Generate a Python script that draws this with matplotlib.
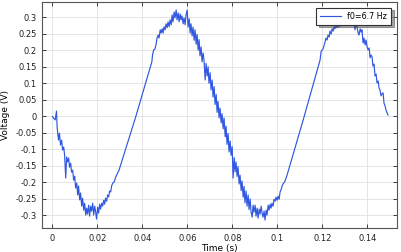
import numpy as np
import matplotlib
matplotlib.use("Agg")
import matplotlib.pyplot as plt
from matplotlib.ticker import FuncFormatter

plt.rcParams['axes.unicode_minus'] = False

t_fall1 = [0.0000, 0.0005, 0.0012, 0.0018, 0.0021, 0.0027, 0.0031, 0.0036, 0.0041, 0.0045,
           0.0050, 0.0054, 0.0059, 0.0063, 0.0068, 0.0072, 0.0076, 0.0081, 0.0085, 0.0090,
           0.0094, 0.0099, 0.0103, 0.0108, 0.0112, 0.0116, 0.0121, 0.0125, 0.0130, 0.0134,
           0.0139, 0.0143, 0.0148, 0.0152, 0.0156, 0.0161, 0.0165, 0.0170, 0.0174, 0.0179,
           0.0183, 0.0188, 0.0192, 0.0196, 0.0201, 0.0205, 0.0210, 0.0214, 0.0219, 0.0223,
           0.0228, 0.0232, 0.0236, 0.0241, 0.0245, 0.0250, 0.0254, 0.0259, 0.0263, 0.0268,
           0.0274]
v_fall1 = [-0.001, -0.005, -0.011, 0.016, -0.035, -0.072, -0.051, -0.087, -0.072, -0.102,
           -0.093, -0.117, -0.187, -0.123, -0.138, -0.126, -0.154, -0.142, -0.169, -0.163,
           -0.193, -0.181, -0.217, -0.202, -0.238, -0.211, -0.253, -0.232, -0.272, -0.248,
           -0.284, -0.263, -0.299, -0.278, -0.296, -0.269, -0.302, -0.272, -0.287, -0.263,
           -0.299, -0.272, -0.290, -0.311, -0.275, -0.293, -0.266, -0.281, -0.263, -0.272,
           -0.254, -0.266, -0.248, -0.257, -0.238, -0.244, -0.226, -0.229, -0.211, -0.202,
           -0.199]

t_rise1 = [0.0283, 0.0296, 0.0370, 0.0442]
v_rise1 = [-0.181, -0.163, -0.002, 0.165]

t_top1 = [0.0445, 0.0450, 0.0456, 0.0461, 0.0465, 0.0470, 0.0474, 0.0479, 0.0483, 0.0488,
          0.0492, 0.0496, 0.0501, 0.0505, 0.0510, 0.0514, 0.0519, 0.0523, 0.0528, 0.0532,
          0.0536, 0.0541, 0.0545, 0.0550, 0.0554, 0.0559, 0.0563, 0.0568, 0.0572, 0.0576,
          0.0581, 0.0585, 0.0590, 0.0594, 0.0599, 0.0603, 0.0608, 0.0612, 0.0616, 0.0621,
          0.0625, 0.0630, 0.0634, 0.0639, 0.0643, 0.0648, 0.0652, 0.0656, 0.0661, 0.0665,
          0.0670, 0.0674, 0.0679, 0.0683, 0.0688, 0.0692, 0.0696, 0.0701, 0.0705, 0.0710,
          0.0714, 0.0719, 0.0723, 0.0728, 0.0732, 0.0736, 0.0741, 0.0745, 0.0750, 0.0754,
          0.0759, 0.0763, 0.0768, 0.0772, 0.0776, 0.0781, 0.0785, 0.0790, 0.0794, 0.0799,
          0.0803, 0.0808, 0.0812, 0.0816, 0.0821, 0.0825, 0.0830, 0.0834, 0.0839, 0.0843,
          0.0848, 0.0852, 0.0856, 0.0861, 0.0865, 0.0870, 0.0874, 0.0879, 0.0883, 0.0888,
          0.0892, 0.0896, 0.0901, 0.0905, 0.0910, 0.0914, 0.0919, 0.0923, 0.0928, 0.0932,
          0.0936, 0.0941, 0.0945, 0.0950, 0.0954, 0.0959, 0.0963, 0.0968, 0.0972, 0.0976,
          0.0981, 0.0985, 0.0990, 0.0994, 0.0999, 0.1003, 0.1008, 0.1012, 0.1016, 0.1021,
          0.1025, 0.1034, 0.1043]
v_top1 = [0.186, 0.201, 0.204, 0.219, 0.237, 0.246, 0.237, 0.262, 0.252, 0.265,
          0.252, 0.271, 0.262, 0.280, 0.268, 0.286, 0.271, 0.292, 0.277, 0.307,
          0.286, 0.316, 0.298, 0.322, 0.292, 0.313, 0.286, 0.310, 0.292, 0.304,
          0.280, 0.298, 0.277, 0.307, 0.322, 0.270, 0.295, 0.252, 0.280, 0.243,
          0.270, 0.230, 0.262, 0.218, 0.248, 0.200, 0.232, 0.183, 0.210, 0.165,
          0.192, 0.168, 0.110, 0.160, 0.122, 0.150, 0.100, 0.132, 0.080, 0.110,
          0.058, 0.090, 0.036, 0.066, 0.012, 0.045, -0.005, 0.025, -0.020, 0.008,
          -0.038, -0.005, -0.062, -0.030, -0.085, -0.052, -0.108, -0.075, -0.118, -0.092,
          -0.187, -0.125, -0.168, -0.138, -0.182, -0.152, -0.205, -0.178, -0.225, -0.196,
          -0.245, -0.212, -0.262, -0.226, -0.272, -0.238, -0.282, -0.250, -0.290, -0.305,
          -0.269, -0.290, -0.269, -0.302, -0.278, -0.308, -0.281, -0.296, -0.272, -0.293,
          -0.305, -0.287, -0.314, -0.284, -0.299, -0.269, -0.284, -0.266, -0.278, -0.263,
          -0.272, -0.251, -0.257, -0.245, -0.254, -0.242, -0.251, -0.229, -0.223, -0.211,
          -0.205, -0.196, -0.178]

t_rise2 = [0.1052, 0.1116, 0.1190]
v_rise2 = [-0.157, -0.008, 0.171]

t_top2 = [0.1194, 0.1199, 0.1203, 0.1208, 0.1212, 0.1216, 0.1221, 0.1225, 0.1230, 0.1234,
          0.1239, 0.1243, 0.1248, 0.1252, 0.1256, 0.1261, 0.1265, 0.1270, 0.1274, 0.1279,
          0.1283, 0.1288, 0.1292, 0.1296, 0.1301, 0.1305, 0.1310, 0.1314, 0.1319, 0.1323,
          0.1328, 0.1332, 0.1336, 0.1341, 0.1345, 0.1350, 0.1354, 0.1359, 0.1363, 0.1368,
          0.1372, 0.1376, 0.1381, 0.1385, 0.1390, 0.1394, 0.1399, 0.1403, 0.1408, 0.1412,
          0.1416, 0.1421, 0.1425, 0.1430, 0.1434, 0.1439, 0.1443, 0.1448, 0.1452, 0.1456,
          0.1461, 0.1465, 0.1470, 0.1474, 0.1479, 0.1483, 0.1488, 0.1492]
v_top2 = [0.195, 0.201, 0.204, 0.216, 0.225, 0.237, 0.231, 0.246, 0.240, 0.258,
          0.249, 0.265, 0.258, 0.271, 0.265, 0.277, 0.268, 0.280, 0.271, 0.283,
          0.274, 0.286, 0.277, 0.289, 0.280, 0.289, 0.280, 0.292, 0.280, 0.289,
          0.277, 0.286, 0.283, 0.286, 0.262, 0.280, 0.271, 0.252, 0.246, 0.265,
          0.255, 0.262, 0.222, 0.237, 0.216, 0.231, 0.210, 0.201, 0.207, 0.177,
          0.186, 0.180, 0.152, 0.158, 0.122, 0.128, 0.101, 0.107, 0.086, 0.080,
          0.062, 0.068, 0.071, 0.040, 0.031, 0.019, 0.010, 0.004]

t = np.concatenate([t_fall1, t_rise1, t_top1, t_rise2, t_top2])
v = np.concatenate([v_fall1, v_rise1, v_top1, v_rise2, v_top2])


def tick_fmt(x, pos):
    if abs(x) < 1e-9:
        return '0'
    return '%g' % round(x, 4)


fig = plt.figure(figsize=(4.01, 2.52), dpi=100)
ax = fig.add_axes([0.105, 0.094, 0.884, 0.898])

ax.plot(t, v, color='#2f57e0', lw=0.85, label='f0=6.7 Hz')

ax.set_xlim(-0.0046, 0.153)
ax.set_ylim(-0.339, 0.346)
ax.set_xticks(np.arange(0, 0.141, 0.02))
ax.set_yticks(np.arange(-0.3, 0.301, 0.05))
ax.xaxis.set_major_formatter(FuncFormatter(tick_fmt))
ax.yaxis.set_major_formatter(FuncFormatter(tick_fmt))
ax.tick_params(direction='in', top=True, right=True, labelsize=6, length=3,
               width=0.6, colors='#222222', pad=4)
ax.grid(True, color='#e0e0e0', lw=0.6)
ax.set_axisbelow(True)
for s in ax.spines.values():
    s.set_color('#555555')
    s.set_linewidth(0.8)

ax.set_xlabel('Time (s)', fontsize=6.5, labelpad=1)
ax.set_ylabel('Voltage (V)', fontsize=6.5, labelpad=4)

leg = ax.legend(loc='upper right', fontsize=5.8, fancybox=False, shadow=True,
                framealpha=1, edgecolor='#333333', handlelength=2.5,
                borderaxespad=0.7, borderpad=0.5)
leg.get_frame().set_linewidth(0.8)

fig.savefig('out.png', dpi=100)
